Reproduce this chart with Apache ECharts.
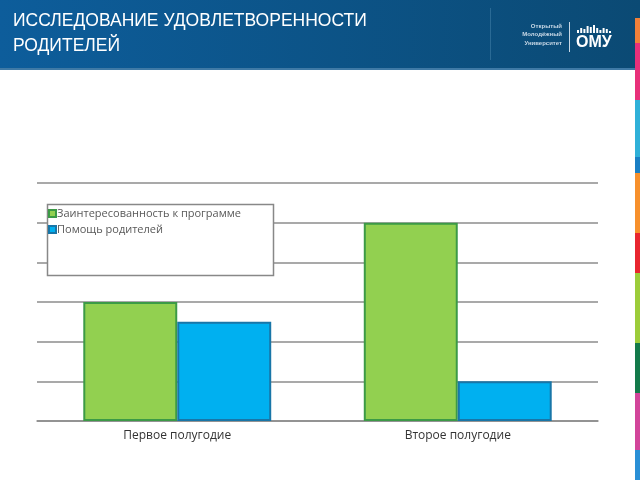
<!DOCTYPE html>
<html><head><meta charset="utf-8">
<script src="https://cdn.jsdelivr.net/npm/echarts@6/dist/echarts.min.js"></script>
<style>html,body{margin:0;padding:0;background:#fff}#c{width:640px;height:480px}</style>
</head><body><div id="c"></div>
<script>
const categories = ['Первое полугодие', 'Второе полугодие'];
const seriesNames = ['Заинтересованность к программе', 'Помощь родителей'];
const interest = [3, 5];
const help = [2.5, 1];
const titleLines = ['ИССЛЕДОВАНИЕ УДОВЛЕТВОРЕННОСТИ', 'РОДИТЕЛЕЙ'];

const strip = [
  ['#f0803a', 18, 43], ['#e8307a', 43, 100], ['#2fb0d8', 100, 157], ['#1a7fc4', 157, 173],
  ['#f7902c', 173, 233], ['#e8262f', 233, 273], ['#9ccc3a', 273, 343], ['#137a4a', 343, 393],
  ['#d2459a', 393, 450], ['#2a8fd6', 450, 480]
];
const graphics = [
  {type:'rect', shape:{x:0,y:0,width:640,height:68}, style:{fill:{type:'linear',x:0,y:0,x2:1,y2:0,colorStops:[{offset:0,color:'#0d5d9b'},{offset:1,color:'#0b4a74'}]}}, z:-1},
  {type:'rect', shape:{x:0,y:68,width:640,height:2}, style:{fill:'#3f7aa6'}, z:-1},
  {type:'rect', shape:{x:490,y:8,width:1,height:52}, style:{fill:'#2a6a95'}},
  {type:'text', x:562, y:23, style:{text:'Открытый', fill:'#c8d8e6', font:'bold 6px "Liberation Sans"', align:'right'}},
  {type:'text', x:562, y:31.5, style:{text:'Молодёжный', fill:'#c8d8e6', font:'bold 6px "Liberation Sans"', align:'right'}},
  {type:'text', x:562, y:40, style:{text:'Университет', fill:'#c8d8e6', font:'bold 6px "Liberation Sans"', align:'right'}},
  {type:'rect', shape:{x:569,y:22,width:1,height:30}, style:{fill:'#c8d8e6'}},
  {type:'text', x:576, y:35, style:{text:'ОМУ', fill:'#ffffff', font:'bold 16px "Liberation Sans"'}},
];
const barH = [3,5,4,7,6,8,5,3,5,4,2];
barH.forEach((h,i)=>graphics.push({type:'rect', shape:{x:577+i*3.2,y:33-h,width:2,height:h}, style:{fill:'#ffffff'}}));
strip.forEach(s=>graphics.push({type:'rect', shape:{x:635,y:s[1],width:5,height:s[2]-s[1]}, style:{fill:s[0]}}));
graphics.push({type:'rect', shape:{x:47.5,y:204.5,width:226,height:71}, style:{fill:'#ffffff', stroke:'#888888', lineWidth:1.5}, z:10});

const chart = echarts.init(document.getElementById('c'));
chart.setOption({
  animation:false,
  title:{text:titleLines.join('\n'), left:13, top:9, padding:0, textStyle:{color:'#ffffff', fontSize:17.5, fontWeight:'normal', fontFamily:'Liberation Sans', lineHeight:25}},
  graphic:graphics,
  legend:{orient:'vertical', left:48, top:208, padding:0, itemWidth:7, itemHeight:7, itemGap:5, icon:'rect', z:20,
    textStyle:{color:'#595959', fontSize:11, fontFamily:'Open Sans', padding:[0,0,0,-4]}, data:seriesNames},
  grid:{left:37, right:42, top:183, bottom:59},
  xAxis:{type:'category', data:categories, axisTick:{show:false},
    axisLine:{lineStyle:{color:'#8c8c8c', width:1.5}},
    axisLabel:{color:'#333', fontSize:12, fontFamily:'Open Sans', margin:9}},
  yAxis:{type:'value', min:0, max:6, interval:1, axisLabel:{show:false}, axisLine:{show:false}, axisTick:{show:false},
    splitLine:{lineStyle:{color:'#8c8c8c', width:1.5}}},
  series:[
    {name:seriesNames[0], type:'bar', data:interest, barGap:0, barCategoryGap:'33%',
      itemStyle:{color:'#92d050', borderColor:'#3c9a46', borderWidth:2}},
    {name:seriesNames[1], type:'bar', data:help,
      itemStyle:{color:'#00b0f0', borderColor:'#1876a8', borderWidth:2}}
  ]
});
</script></body></html>
